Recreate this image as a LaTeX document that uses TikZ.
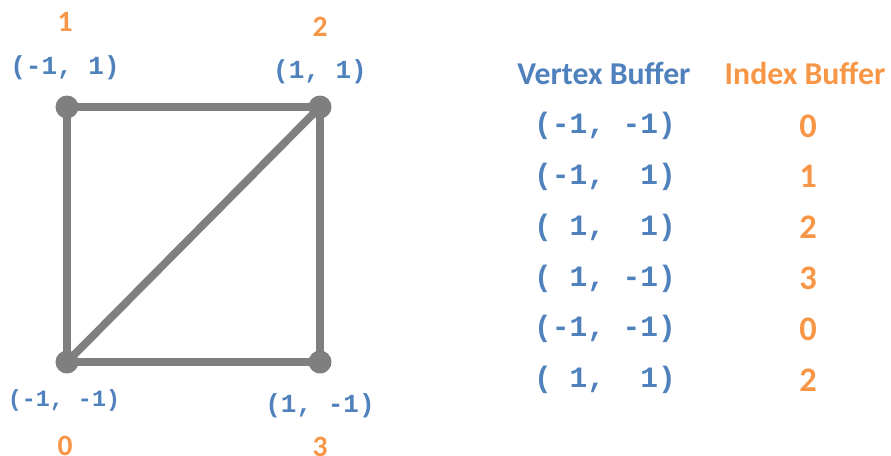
\documentclass[tikz,border=0pt]{standalone}
\usepackage{fontspec}
\setmainfont{Carlito}
\newfontfamily\codefont{Liberation Mono}
\usetikzlibrary{positioning}
\definecolor{vbblue}{HTML}{4F81BD}
\definecolor{iborange}{HTML}{F79646}
\definecolor{edgegrey}{HTML}{7F7F7F}

\begin{document}
\begin{tikzpicture}[x=0.025cm,y=-0.025cm,
  vert/.style={circle,fill=edgegrey,inner sep=0pt,minimum size=0.575cm},
  edge/.style={draw=edgegrey,line width=5.5pt,line join=round},
  cornerpos/.style={font=\codefont\bfseries\fontsize{18.5}{22}\selectfont,text=vbblue,inner sep=0pt},
  rowpos/.style={font=\codefont\bfseries\fontsize{21}{25}\selectfont,text=vbblue,inner sep=0pt},
  idx/.style={font=\bfseries\fontsize{24.5}{28}\selectfont,text=iborange,inner sep=0pt},
  corneridx/.style={idx,font=\bfseries\fontsize{21}{25}\selectfont},
  head/.style={font=\bfseries\fontsize{22.6}{26}\selectfont,inner sep=0pt}]
  \useasboundingbox (0,0) rectangle (891,455);
  % the quad and its two triangles
  \coordinate (p0) at (67,362);  \coordinate (p1) at (67,107);
  \coordinate (p2) at (320,107); \coordinate (p3) at (320,362);
  \draw[edge] (p0) -- (p1) -- (p2) -- (p3) -- cycle;
  \draw[edge] (p0) -- (p2);
  \node[vert] (v0) at (p0) {}; \node[vert] (v1) at (p1) {};
  \node[vert] (v2) at (p2) {}; \node[vert] (v3) at (p3) {};
  % corner labels
  \node[cornerpos] (c1) at (65,68) {(-1,~1)};  \node[corneridx] (n1) at (65,22) {1};
  \node[cornerpos] (c2) at (320,72) {(1,~1)};  \node[corneridx] (n2) at (320,27) {2};
  \node[cornerpos,font=\codefont\bfseries\fontsize{16.6}{20}\selectfont] (c0) at (64,400) {(-1,~-1)};
  \node[corneridx] (n0) at (65,446) {0};
  \node[cornerpos] (c3) at (320,406) {(1,~-1)}; \node[corneridx] (n3) at (320,447) {3};
  % buffers
  \node[head,text=vbblue] (vbhead) at (604,73) {Vertex Buffer};
  \node[head,text=iborange] (ibhead) at (805,73) {Index Buffer};
  \foreach \v/\i [count=\r] in {{(-1,~-1)}/0,{(-1,~~1)}/1,{(~1,~~1)}/2,{(~1,~-1)}/3,{(-1,~-1)}/0,{(~1,~~1)}/2}
  {
    \node[rowpos] (vb\r) at (605,{126+(\r-1)*50.8}) {\v};
    \node[idx] (ib\r) at (808,{126+(\r-1)*50.8}) {\i};
  }
\end{tikzpicture}
\end{document}
